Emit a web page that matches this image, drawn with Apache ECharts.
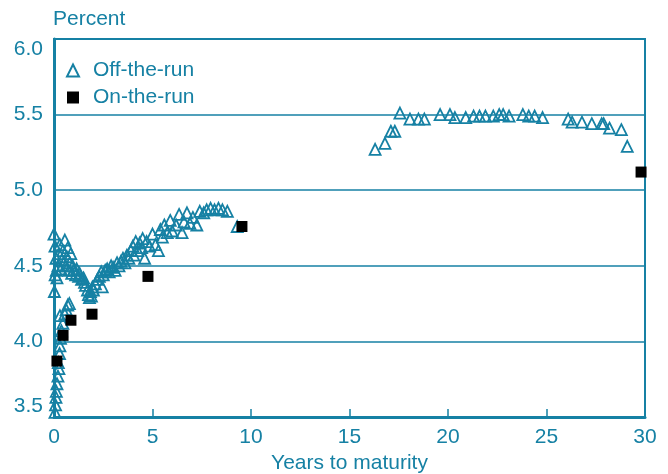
<!DOCTYPE html>
<html>
<head>
<meta charset="utf-8">
<script src="https://cdn.jsdelivr.net/npm/echarts@6/dist/echarts.min.js"></script>
<style>html,body{margin:0;padding:0;background:#fff}#c{width:668px;height:474px}</style>
</head>
<body>
<div id="c"></div>
<script>
// Off-the-run securities: [years to maturity, percent]
const offTheRun = [
  [0.05,3.53],[0.08,3.58],[0.1,3.63],[0.12,3.67],[0.15,3.72],[0.2,3.77],[0.25,3.82],[0.22,3.86],[0.28,3.92],[0.3,3.97],[0.33,4.02],[0.38,4.07],
  [0.45,4.12],[0.55,4.18],[0.62,4.21],[0.7,4.24],[0.78,4.25],[0.3,4.17],
  [0.02,4.33],[0.0,4.71],[0.05,4.63],[0.1,4.55],[0.12,4.47],[0.15,4.42],[0.06,4.44],
  [0.2,4.5],[0.25,4.58],[0.3,4.64],[0.35,4.48],[0.4,4.54],[0.45,4.6],[0.55,4.67],[0.6,4.5],[0.65,4.56],[0.7,4.62],[0.75,4.47],[0.8,4.52],[0.85,4.58],[0.9,4.45],[0.95,4.5],[1.0,4.47],[1.1,4.44],[1.15,4.48],[1.25,4.43],[1.3,4.45],[1.4,4.41],[1.5,4.42],[1.55,4.39],[1.6,4.37],[1.7,4.34],[1.75,4.31],[1.8,4.29],[1.85,4.33],[1.9,4.3],[1.95,4.36],[2.0,4.34],
  [2.1,4.38],[2.2,4.41],[2.3,4.43],[2.4,4.46],[2.45,4.36],[2.5,4.44],[2.6,4.47],[2.7,4.48],[2.8,4.46],[2.9,4.5],[3.0,4.49],[3.1,4.47],[3.2,4.52],[3.3,4.5],[3.4,4.53],[3.5,4.55],[3.6,4.52],[3.7,4.57],[3.8,4.55],[3.9,4.6],[4.0,4.63],[4.05,4.57],[4.15,4.66],[4.25,4.6],[4.35,4.65],[4.45,4.62],[4.5,4.68],[4.6,4.55],[4.7,4.66],[4.85,4.63],
  [5.0,4.71],[5.15,4.64],[5.3,4.6],[5.4,4.74],[5.5,4.69],[5.6,4.77],[5.75,4.72],[5.9,4.8],[6.0,4.73],[6.2,4.77],[6.35,4.84],[6.5,4.72],[6.6,4.79],[6.75,4.85],[6.9,4.78],[7.05,4.82],[7.25,4.77],[7.4,4.86],[7.6,4.85],[7.75,4.87],[7.95,4.88],[8.15,4.87],[8.35,4.88],[8.55,4.87],[8.8,4.86],[9.3,4.76],
  [16.3,5.27],[16.8,5.31],[17.1,5.39],[17.3,5.39],[17.56,5.51],[18.07,5.47],[18.5,5.47],[18.8,5.47],[19.6,5.5],[20.1,5.5],[20.35,5.48],[20.9,5.48],[21.3,5.49],[21.6,5.49],[21.9,5.49],[22.3,5.49],[22.6,5.5],[22.8,5.5],[23.1,5.49],[23.8,5.5],[24.1,5.49],[24.4,5.49],[24.8,5.48],
  [26.1,5.47],[26.3,5.45],[26.8,5.45],[27.3,5.44],[27.8,5.44],[27.9,5.44],[28.2,5.41],[28.8,5.4],[29.1,5.29]
];
// On-the-run securities
const onTheRun = [[0.15,3.87],[0.46,4.04],[0.86,4.14],[1.93,4.18],[4.77,4.43],[9.54,4.76],[29.8,5.12]];
const xTicks = [0,5,10,15,20,25,30];
const yTicks = [3.5,4.0,4.5,5.0,5.5,6.0];

const teal = '#1681a4';
const font = 'Liberation Sans, Arial, sans-serif';
const fs = 21;
const chart = echarts.init(document.getElementById('c'), null, {renderer:'canvas'});
chart.setOption({
  animation:false,
  title:{text:'Percent', left:53, top:9, padding:0, textStyle:{color:teal, fontFamily:font, fontSize:fs, fontWeight:'normal'}},
  legend:{orient:'vertical', left:66, top:60, padding:0, itemWidth:12, itemHeight:12, itemGap:6,
    textStyle:{color:teal, fontFamily:font, fontSize:fs, padding:[0,0,0,9]},
    data:[{name:'Off-the-run'},{name:'On-the-run'}]},
  grid:{left:54, right:23, top:39, bottom:57, show:true, borderColor:teal, borderWidth:2, outerBoundsMode:'none'},
  xAxis:{type:'value', min:0, max:30, interval:5,
    name:'Years to maturity', nameLocation:'middle', nameGap:35,
    nameTextStyle:{color:teal, fontFamily:font, fontSize:fs},
    axisLine:{show:true, lineStyle:{color:teal, width:3}},
    axisTick:{show:true, inside:true, length:8, lineStyle:{color:teal, width:1.5}},
    axisLabel:{color:teal, fontFamily:font, fontSize:fs, margin:10,
      formatter:v=>xTicks.includes(v)?String(v):''},
    splitLine:{show:false}},
  yAxis:{type:'value', min:3.5, max:6.0, interval:0.5,
    axisLine:{show:true, lineStyle:{color:teal, width:3}},
    axisTick:{show:false},
    axisLabel:{color:teal, fontFamily:font, fontSize:fs, margin:11,
      verticalAlignMinLabel:'bottom', verticalAlignMaxLabel:'top',
      formatter:v=>yTicks.includes(+v.toFixed(1))?v.toFixed(1):''},
    splitLine:{show:true, lineStyle:{color:teal, width:1.5}}},
  series:[
    {name:'Off-the-run', type:'scatter', data:offTheRun, symbol:'triangle', symbolSize:[11,11],
      itemStyle:{color:'rgba(255,255,255,0)', borderColor:teal, borderWidth:1.8, opacity:1}, z:3},
    {name:'On-the-run', type:'scatter', data:onTheRun, symbol:'rect', symbolSize:11,
      itemStyle:{color:'#000', opacity:1}, z:4}
  ]
});
</script>
</body>
</html>
